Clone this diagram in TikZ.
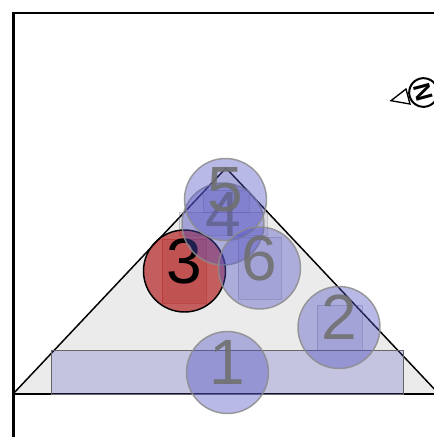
\documentclass[tikz,border=0pt]{standalone}
\usepackage{fontspec}
\setmainfont{Liberation Sans}
\definecolor{spotblue}{RGB}{80,80,195}
\definecolor{spotred}{RGB}{170,0,0}
\definecolor{floorgray}{RGB}{235,235,235}
\definecolor{digitgray}{RGB}{112,112,112}
\begin{document}
\begin{tikzpicture}[x=0.75pt, y=-0.75pt,
    spot/.style={circle, minimum size=61.5pt, inner sep=0pt, line width=1.1pt, draw=black!45,
        draw opacity=0.85, fill=spotblue, fill opacity=0.4, text opacity=0.9, text=digitgray,
        font=\fontsize{48}{48}\selectfont, text height=33pt, text depth=15pt},
    redspot/.style={spot, draw=black, draw opacity=1, fill=spotred, fill opacity=0.6, text=black, text opacity=1},
    zone/.style={fill=spotblue, fill opacity=0.1, draw=black!60, draw opacity=0.3, line width=0.6pt},
    redzone/.style={fill=spotred, fill opacity=0.12, draw=spotred, draw opacity=0.25, line width=0.6pt}]
    \clip (0,0) rectangle (434,437);

    % 1. Draw the frame
    \draw[line width=2.6pt, black] (13.5,437) -- (13.5,11.5);
    \draw[line width=1.8pt, black] (12,12.7) -- (434,12.7);

    % 2. Draw the triangular floor
    \fill[floorgray] (13,394) -- (226,168) -- (439,394) -- cycle;
    \draw[line width=1.1pt, black] (13,394) -- (226,168) -- (439,394);
    \draw[line width=1.1pt, black] (13,394) -- (434,394);

    % 3. Draw the zones
    \draw[zone, fill opacity=0.25, draw opacity=1] (51.5,350.5) rectangle (403,394);
    \draw[zone] (317,305) rectangle (362,350);
    \draw[redzone] (162,239) rectangle (206,303);
    \draw[zone] (179,212) rectangle (267,235);
    \draw[zone] (203,190) rectangle (249,212);
    \draw[zone] (238,237) rectangle (281,299);

    % 4. Draw the numbered spots
    \node[spot] (spot1) at (227.5,372.5) {1};
    \node[spot] (spot2) at (339,327.5) {2};
    \node[redspot] (spot3) at (184.5,271) {3};
    \node[spot] (spot4) at (223,224) {4};
    \node[spot] (spot5) at (225.5,199.5) {5};
    \node[spot] (spot6) at (259.5,268) {6};

    % 5. Draw the north mark
    \draw[line width=1pt, black, fill=white] (391,100.7) -- (406,89) -- (410,104) -- cycle;
    \node[circle, minimum size=21.5pt, inner sep=0pt, line width=1.5pt, draw=black, fill=white,
        rotate=105, font=\fontsize{18}{18}\bfseries\selectfont] (northmark) at (423.5,92.5) {N};
\end{tikzpicture}
\end{document}
